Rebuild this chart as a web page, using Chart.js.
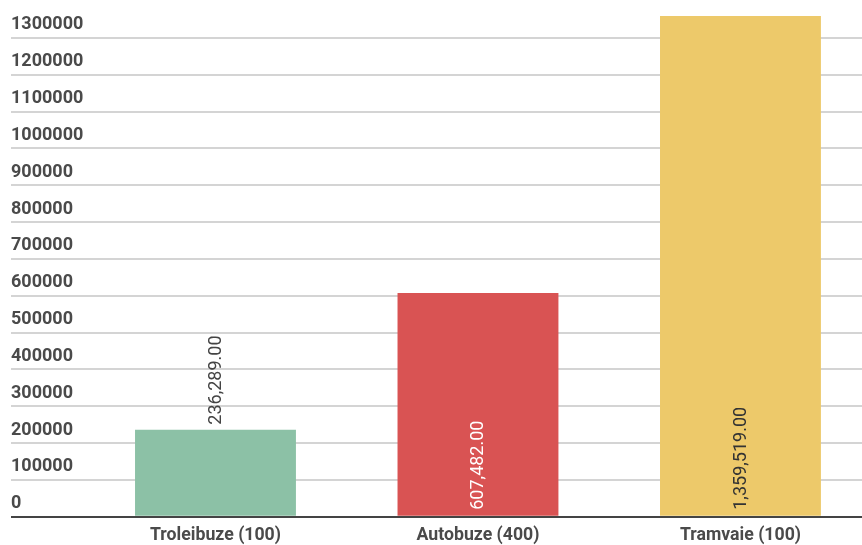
<!DOCTYPE html>
<html>
<head>
<meta charset="utf-8">
<script src="https://cdn.jsdelivr.net/npm/chart.js@4/dist/chart.umd.min.js"></script>
<style>
  html, body { margin: 0; padding: 0; background: #fff; overflow: hidden; }
  #wrap { width: 862px; height: 545px; position: relative; }
</style>
</head>
<body>
<div id="wrap"><canvas id="chart"></canvas></div>
<script>
// ---- data ----
const categories = ["Troleibuze (100)", "Autobuze (400)", "Tramvaie (100)"];
const amounts    = [236289, 607482, 1359519];
const yTicksMax  = 1400000;
const yTickStep  = 100000;

// ---- style ----
const barColors = ["#8cc1a6", "#d95353", "#edc96a"];
const inkInside = ["#ffffff", "#ffffff", "#333333"];
const inkOutside = "#444444";
const font = "Roboto";

// bar value labels, rotated, inside the bar when they fit, else on top
const valueLabels = {
  id: "valueLabels",
  afterDatasetsDraw(chart) {
    const ctx = chart.ctx;
    const meta = chart.getDatasetMeta(0);
    ctx.save();
    ctx.font = `18px ${font}`;
    ctx.textBaseline = "middle";
    ctx.textAlign = "left";
    meta.data.forEach((bar, i) => {
      const txt = amounts[i].toLocaleString("en-US", {minimumFractionDigits: 2, maximumFractionDigits: 2});
      const w = ctx.measureText(txt).width;
      const h = bar.base - bar.y;
      let y0, ink;
      if (h > w + 12) { y0 = bar.base - 6; ink = inkInside[i]; }
      else { y0 = bar.y - 5; ink = inkOutside; }
      ctx.save();
      ctx.translate(bar.x, y0);
      ctx.rotate(-Math.PI / 2);
      ctx.fillStyle = ink;
      ctx.fillText(txt, 0, 1);
      ctx.restore();
    });
    ctx.restore();
  }
};

new Chart(document.getElementById("chart"), {
  type: "bar",
  data: {
    datasets: [{
      data: amounts.map((v, i) => ({x: i, y: v})),
      backgroundColor: barColors,
      borderWidth: 0,
      categoryPercentage: 1,
      barPercentage: 0.613
    }]
  },
  options: {
    responsive: true,
    maintainAspectRatio: false,
    animation: false,
    layout: { padding: { left: 11, right: 0, top: 1, bottom: -9 } },
    plugins: { legend: { display: false }, tooltip: { enabled: false } },
    scales: {
      x: {
        type: "linear",
        offset: false,
        min: -0.779,
        max: 2.463,
        grid: { display: false, drawTicks: false },
        border: { display: false },
        afterBuildTicks: s => { s.ticks = categories.map((_, i) => ({value: i})); },
        ticks: {
          autoSkip: false,
          maxRotation: 0,
          padding: 8,
          color: "#4a4a4a",
          font: { family: font, size: 17.7, weight: "bold" },
          callback: v => categories[v]
        }
      },
      y: {
        min: 0,
        max: yTicksMax,
        border: { display: false },
        afterFit: s => { s.paddingTop = 0; s.paddingBottom = 0; },
        grid: {
          drawTicks: false,
          color: c => c.tick.value === 0 ? "#444" : "#d4d4d4",
          lineWidth: 2
        },
        ticks: {
          stepSize: yTickStep,
          mirror: true,
          padding: 0,
          labelOffset: -13,
          color: "#4a4a4a",
          font: { family: font, size: 18, weight: "bold" },
          callback: v => v >= yTicksMax ? null : String(v)
        }
      }
    }
  },
  plugins: [valueLabels]
});
</script>
</body>
</html>
